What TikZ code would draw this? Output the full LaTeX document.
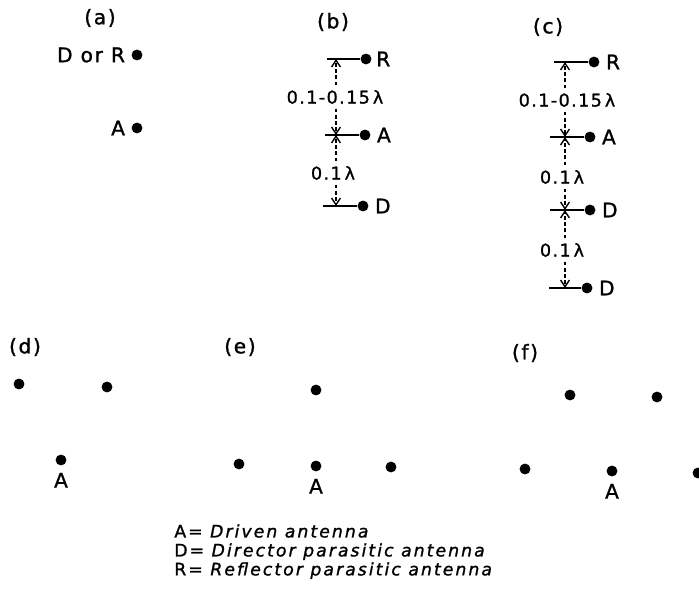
\documentclass[tikz,border=0pt]{standalone}
\usepackage{fontspec}
\setmainfont{DejaVu Sans}[LetterSpace=8,FakeBold=1.2]
\usetikzlibrary{arrows.meta,positioning}

\tikzset{
    dot/.style={circle, fill, inner sep=0pt, minimum size=6.2pt},
    elem/.style={line width=1pt},
    gap/.style={line width=0.8pt, dash pattern=on 2.2pt off 1.3pt,
        -{Straight Barb[length=3.8pt,width=5pt,line width=0.8pt]}},
    tag/.style={inner sep=2.5pt, font=\fontsize{10}{12}\selectfont}
}

\begin{document}
\begin{tikzpicture}[x=0.02cm, y=-0.02cm,
    every node/.style={font=\fontsize{11.5}{13}\selectfont}]
    \clip (0,0) rectangle (699,594);

    % (a) two element array
    \node (la) at (100,18) {(a)};
    \node[dot] (aP) at (137,55) {};
    \node[left=0pt of aP] (aPl) {D or R};
    \node[dot] (aA) at (137,128) {};
    \node[left=0pt of aA] (aAl) {A};

    % (b) reflector - driven - director
    \node (lb) at (333,22) {(b)};
    \node[dot] (bR) at (366,59) {};
    \node[dot] (bA) at (365,135) {};
    \node[dot] (bD) at (363,206) {};
    \node[right=-1pt of bR] (bRl) {R};
    \node[right=0pt of bA] (bAl) {A};
    \node[right=0pt of bD] (bDl) {D};
    \draw[elem] (bR.west) -- ++(-33,0) coordinate (bRe);
    \draw[elem] (bA.west) -- ++(-34,0) coordinate (bAe);
    \draw[elem] (bD.west) -- ++(-34,0) coordinate (bDe);
    \coordinate (bRx) at (336,59);
    \coordinate (bAx) at (336,135);
    \coordinate (bDx) at (336,206);
    \node[tag] (bs1) at (335,97) {0.1-0.15\,λ};
    \node[tag] (bs2) at (333,173) {0.1\,λ};
    \draw[gap] (bs1.north -| bRx) -- (bRx);
    \draw[gap] (bs1.south -| bAx) -- (bAx);
    \draw[gap] (bs2.north -| bAx) -- (bAx);
    \draw[gap] (bs2.south -| bDx) -- (bDx);

    % (c) reflector - driven - two directors
    \node (lc) at (548,27) {(c)};
    \node[dot] (cR) at (594,62) {};
    \node[dot] (cA) at (590,137) {};
    \node[dot] (cD1) at (590,210) {};
    \node[dot] (cD2) at (587,288) {};
    \node[right=0pt of cR] (cRl) {R};
    \node[right=0pt of cA] (cAl) {A};
    \node[right=0pt of cD1] (cD1l) {D};
    \node[right=0pt of cD2] (cD2l) {D};
    \draw[elem] (cR.west) -- ++(-34,0);
    \draw[elem] (cA.west) -- ++(-34,0);
    \draw[elem] (cD1.west) -- ++(-34,0);
    \draw[elem] (cD2.west) -- ++(-32,0);
    \coordinate (cRx) at (565,62);
    \coordinate (cAx) at (565,137);
    \coordinate (cD1x) at (565,210);
    \coordinate (cD2x) at (565,288);
    \node[tag] (cs1) at (567,100) {0.1-0.15\,λ};
    \node[tag] (cs2) at (562,177) {0.1\,λ};
    \node[tag] (cs3) at (562,250) {0.1\,λ};
    \draw[gap] (cs1.north -| cRx) -- (cRx);
    \draw[gap] (cs1.south -| cAx) -- (cAx);
    \draw[gap] (cs2.north -| cAx) -- (cAx);
    \draw[gap] (cs2.south -| cD1x) -- (cD1x);
    \draw[gap] (cs3.north -| cD1x) -- (cD1x);
    \draw[gap] (cs3.south -| cD2x) -- (cD2x);

    % (d) three elements
    \node (ld) at (25,347) {(d)};
    \node[dot] (d1) at (19,384) {};
    \node[dot] (d2) at (107,387) {};
    \node[dot] (dA) at (61,460) {};
    \node[below=0.5pt of dA] (dAl) {A};

    % (e) four elements
    \node (le) at (240,347) {(e)};
    \node[dot] (e1) at (316,390) {};
    \node[dot] (e2) at (239,464) {};
    \node[dot] (eA) at (316,466) {};
    \node[dot] (e3) at (391,467) {};
    \node[below=0.5pt of eA] (eAl) {A};

    % (f) five elements
    \node (lf) at (525,353) {(f)};
    \node[dot] (f1) at (570,395) {};
    \node[dot] (f2) at (657,397) {};
    \node[dot] (f3) at (525,469) {};
    \node[dot] (fA) at (612,471) {};
    \node[dot] (f4) at (698,473) {};
    \node[below=0.5pt of fA] (fAl) {A};

    % key
    \node[anchor=north west, align=left, inner sep=0pt,
        font=\fontsize{9.8}{10.8}\selectfont\addfontfeature{LetterSpace=12}]
        (key) at (174,524)
        {A= \textit{Driven antenna}\\
         D= \textit{Director parasitic antenna}\\
         R= \textit{Reflector parasitic antenna}};
\end{tikzpicture}
\end{document}
